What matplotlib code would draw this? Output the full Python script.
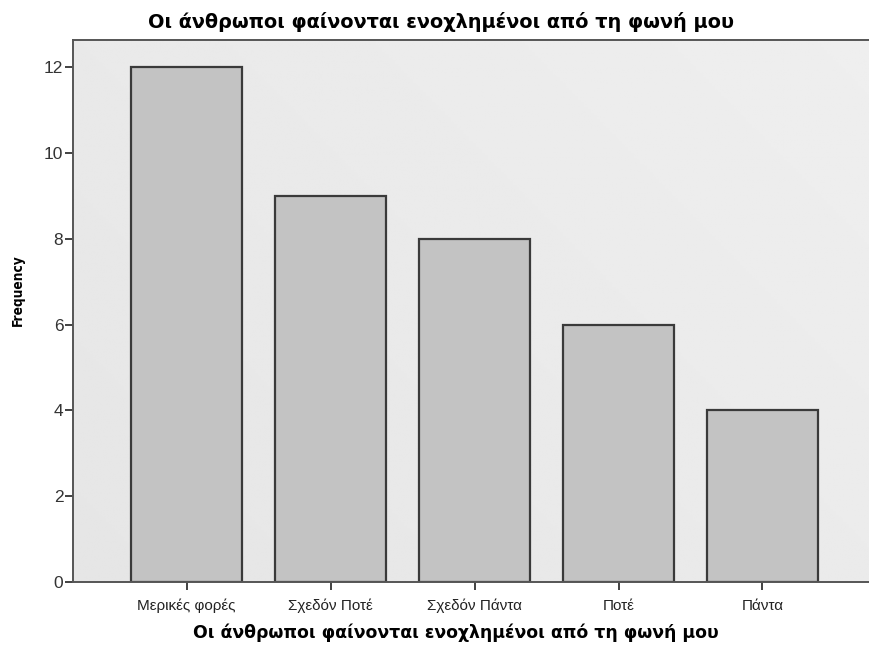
import matplotlib
matplotlib.use("Agg")
import matplotlib.pyplot as plt
import numpy as np

# Response counts for the survey item
categories = ["Μερικές φορές", "Σχεδόν Ποτέ", "Σχεδόν Πάντα", "Ποτέ", "Πάντα"]
frequencies = [12, 9, 8, 6, 4]
y_ticks = [0, 2, 4, 6, 8, 10, 12]

title_text = "Οι άνθρωποι φαίνονται ενοχλημένοι από τη φωνή μου"
x_label = "Οι άνθρωποι φαίνονται ενοχλημένοι από τη φωνή μου"
y_label = "Frequency"

plt.rcParams["font.family"] = ["Liberation Sans", "DejaVu Sans"]

fig = plt.figure(figsize=(8.69, 6.45), dpi=100)
fig.patch.set_facecolor("white")
ax = fig.add_axes([73 / 869, 63 / 645, 1 - 73 / 869, (582 - 40) / 645])

XMIN, XMAX = -0.79, 4.74
YMAX = 12.63

# soft grey gradient for the plot area
grad = np.linspace(0, 1, 256)
gx, gy = np.meshgrid(grad, grad)
shade = 0.900 + 0.035 * (0.6 * gx + 0.4 * gy)
ax.imshow(shade, cmap="gray", vmin=0, vmax=1, aspect="auto",
          extent=[XMIN, XMAX, 0, YMAX], origin="lower", zorder=0)

x = np.arange(len(categories))
ax.bar(x, frequencies, width=0.77, color="#c3c3c3", edgecolor="#3a3a3a",
       linewidth=1.6, zorder=2)

ax.set_xlim(XMIN, XMAX)
ax.set_ylim(0, YMAX)
ax.set_yticks(y_ticks)
ax.set_yticklabels([str(v) for v in y_ticks], fontsize=12.5, color="#333333")
ax.set_xticks(x)
ax.set_xticklabels(categories, fontsize=11, color="#222222")
ax.tick_params(axis="both", direction="out", length=6, width=1.3, color="#333333")
ax.tick_params(axis="x", pad=6)
ax.tick_params(axis="y", pad=1)

for side in ("left", "top", "bottom"):
    ax.spines[side].set_color("#555555")
    ax.spines[side].set_linewidth(1.4)
ax.spines["right"].set_visible(False)

# axis titles
fig.text(456 / 869, 1 - 633 / 645, x_label, ha="center", va="center",
         fontsize=12.4, fontweight="bold", family=["DejaVu Sans"])
fig.text(18 / 869, 1 - 290 / 645, y_label, ha="center", va="center",
         rotation=90, fontsize=9.8, fontweight="bold",
         family=["DejaVu Sans"], fontstretch="condensed")

fig.text(0.508, 0.966, title_text, ha="center", va="center",
         fontsize=13.9, fontweight="bold", family=["DejaVu Sans"])

fig.savefig("out.png", dpi=100, facecolor="white")
